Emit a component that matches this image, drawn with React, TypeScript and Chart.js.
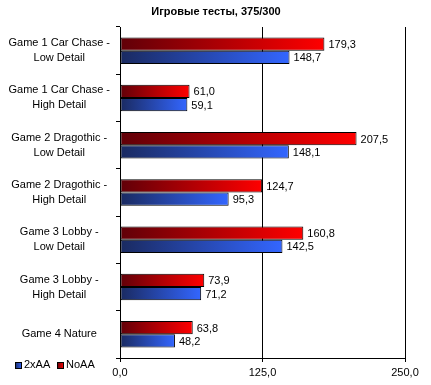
import React, { useEffect, useRef } from "react";
import { Chart, registerables } from "chart.js";

Chart.register(...registerables);

const TITLE = "Игровые тесты, 375/300";
const CATEGORIES: string[][] = [
  ["Game 1 Car Chase -", "Low Detail"],
  ["Game 1 Car Chase -", "High Detail"],
  ["Game 2 Dragothic -", "Low Detail"],
  ["Game 2 Dragothic -", "High Detail"],
  ["Game 3 Lobby -", "Low Detail"],
  ["Game 3 Lobby -", "High Detail"],
  ["Game 4 Nature"],
];
const NOAA = [179.3, 61.0, 207.5, 124.7, 160.8, 73.9, 63.8];
const AA2X = [148.7, 59.1, 148.1, 95.3, 142.5, 71.2, 48.2];
const X_TICKS = [0, 125, 250];

const FONT = "'Liberation Sans', Arial, sans-serif";

function fmt(v: number) {
  return v.toFixed(1).replace(".", ",");
}

function gradientFor(dark: string, bright: string) {
  return (ctx: any) => {
    const chart = ctx.chart;
    const xs = chart.scales?.x;
    if (!xs || ctx.type !== "data") return bright;
    const x0 = xs.getPixelForValue(0);
    const x1 = xs.getPixelForValue(ctx.raw as number);
    if (!isFinite(x0) || !isFinite(x1) || x1 - x0 < 1) return bright;
    const g = chart.ctx.createLinearGradient(x0, 0, x1, 0);
    g.addColorStop(0, dark);
    g.addColorStop(1, bright);
    return g;
  };
}

const valueLabels = {
  id: "valueLabels",
  afterDatasetsDraw(chart: any) {
    const ctx = chart.ctx;
    ctx.save();
    ctx.font = `11px ${FONT}`;
    ctx.fillStyle = "#000";
    ctx.textAlign = "left";
    ctx.textBaseline = "middle";
    chart.data.datasets.forEach((ds: any, di: number) => {
      const meta = chart.getDatasetMeta(di);
      meta.data.forEach((el: any, i: number) => {
        ctx.fillText(fmt(ds.data[i]), el.x + 4, el.y + 1);
      });
    });
    ctx.restore();
  },
};

const titleAndLegend = {
  id: "titleAndLegend",
  afterDraw(chart: any) {
    const ctx = chart.ctx;
    ctx.save();
    ctx.font = `bold 11px ${FONT}`;
    ctx.fillStyle = "#000";
    ctx.textAlign = "center";
    ctx.textBaseline = "middle";
    ctx.fillText(TITLE, 216, 12);

    ctx.font = `11px ${FONT}`;
    ctx.textBaseline = "middle";
    ctx.textAlign = "left";
    const y = 365;
    const items = [
      { text: "2xAA", color: "#3366ff", dark: "#1a2a60", x: 15 },
      { text: "NoAA", color: "#ff0000", dark: "#600008", x: 57 },
    ];
    items.forEach((it) => {
      const g = ctx.createLinearGradient(it.x, 0, it.x + 7, 0);
      g.addColorStop(0, it.dark);
      g.addColorStop(1, it.color);
      ctx.fillStyle = g;
      ctx.fillRect(it.x, y - 3, 7, 7);
      ctx.strokeStyle = "#000";
      ctx.lineWidth = 1;
      ctx.strokeRect(it.x + 0.5, y - 2.5, 6, 6);
      ctx.fillStyle = "#000";
      ctx.fillText(it.text, it.x + 9, y);
    });
    ctx.restore();
  },
};

export default function App() {
  const ref = useRef<HTMLCanvasElement | null>(null);
  useEffect(() => {
    if (!ref.current) return;
    const chart = new Chart(ref.current, {
      type: "bar",
      data: {
        labels: CATEGORIES,
        datasets: [
          {
            label: "NoAA",
            data: NOAA,
            backgroundColor: gradientFor("#600008", "#ff0000"),
            borderColor: "#000",
            borderWidth: 1,
            borderSkipped: false,
            categoryPercentage: 0.56,
            barPercentage: 1,
          },
          {
            label: "2xAA",
            data: AA2X,
            backgroundColor: gradientFor("#1a2a60", "#3366ff"),
            borderColor: "#000",
            borderWidth: 1,
            borderSkipped: false,
            categoryPercentage: 0.56,
            barPercentage: 1,
          },
        ],
      },
      options: {
        indexAxis: "y",
        animation: false,
        responsive: false,
        maintainAspectRatio: false,
        devicePixelRatio: 1,
        layout: { padding: { top: 27, right: 26, left: 0, bottom: 0 } },
        plugins: {
          legend: { display: false },
          tooltip: { enabled: false },
          title: { display: false },
        },
        scales: {
          x: {
            type: "linear",
            min: 0,
            max: 250,
            afterBuildTicks: (s: any) => {
              s.ticks = X_TICKS.map((v) => ({ value: v }));
            },
            afterFit: (s: any) => {
              s.height = 27;
            },
            ticks: {
              color: "#000",
              font: { family: FONT, size: 11 },
              padding: 4,
              maxRotation: 0,
              callback: (v: any) => fmt(Number(v)),
            },
            grid: {
              color: "#000",
              lineWidth: 1,
              drawOnChartArea: true,
              drawTicks: true,
              tickLength: 4,
            },
            border: { display: true, color: "#000", width: 1 },
          },
          y: {
            type: "category",
            afterFit: (s: any) => {
              s.width = 120;
            },
            ticks: {
              color: "#000",
              font: { family: FONT, size: 11, lineHeight: 1.36 },
              crossAlign: "center",
              padding: 6,
            },
            grid: {
              offset: true,
              drawOnChartArea: false,
              drawTicks: true,
              tickLength: 4,
              color: "#000",
            },
            border: { display: true, color: "#000", width: 1 },
          },
        },
      },
      plugins: [valueLabels, titleAndLegend],
    });
    return () => chart.destroy();
  }, []);
  return (
    <div style={{ position: "fixed", left: 0, top: 0, width: 431, height: 385, background: "#fff" }}>
      <canvas ref={ref} width={431} height={385} style={{ display: "block", width: 431, height: 385 }} />
    </div>
  );
}
